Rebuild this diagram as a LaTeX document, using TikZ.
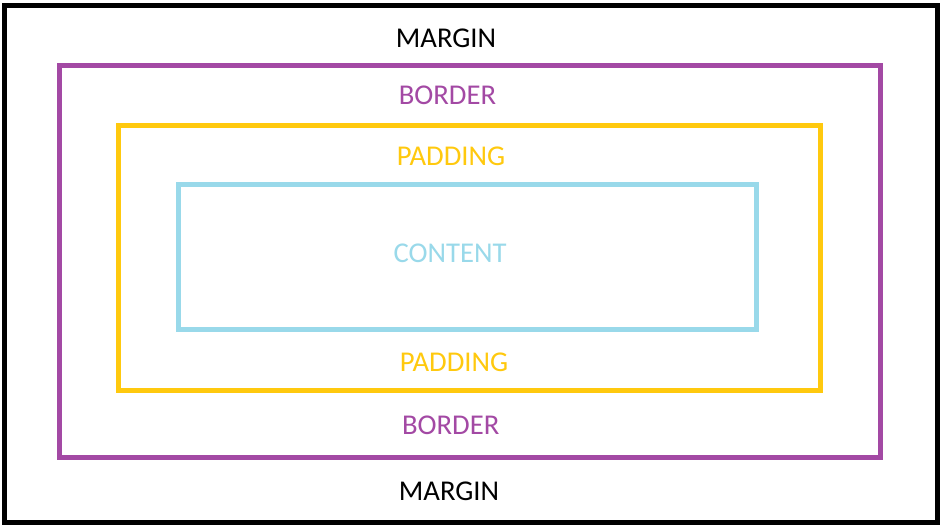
\documentclass[tikz,border=0pt]{standalone}
\usepackage{fontspec}
\setmainfont{Carlito}
\definecolor{mpurple}{HTML}{A349A4}
\definecolor{myellow}{HTML}{FFC90E}
\definecolor{mcyan}{HTML}{99D9EA}
\begin{document}
\begin{tikzpicture}[x=0.75pt,y=-0.75pt,
  frame/.style={line width=3.75pt},
  lbl/.style={inner sep=0pt,anchor=base,font=\fontsize{21.5}{24}\selectfont}]
\useasboundingbox (0,0) rectangle (944,531);
\fill[white] (0,0) rectangle (944,531);
\draw[frame,black] (4.5,5.5) rectangle (937.5,522.5);
\draw[frame,mpurple] (59.5,65.5) rectangle (880.5,457.5);
\draw[frame,myellow] (118.5,125.5) rectangle (820,390.5);
\draw[frame,mcyan] (178.5,184.5) rectangle (756.5,329.5);
\node[lbl,text=black] (m1) at (446,48) {MARGIN};
\node[lbl,text=mpurple] (b1) at (447.5,105) {BORDER};
\node[lbl,text=myellow] (p1) at (451,165) {PADDING};
\node[lbl,text=mcyan] (c) at (450,262) {CONTENT};
\node[lbl,text=myellow] (p2) at (454,371.5) {PADDING};
\node[lbl,text=mpurple] (b2) at (450.7,434) {BORDER};
\node[lbl,text=black] (m2) at (449,500.5) {MARGIN};
\end{tikzpicture}
\end{document}
